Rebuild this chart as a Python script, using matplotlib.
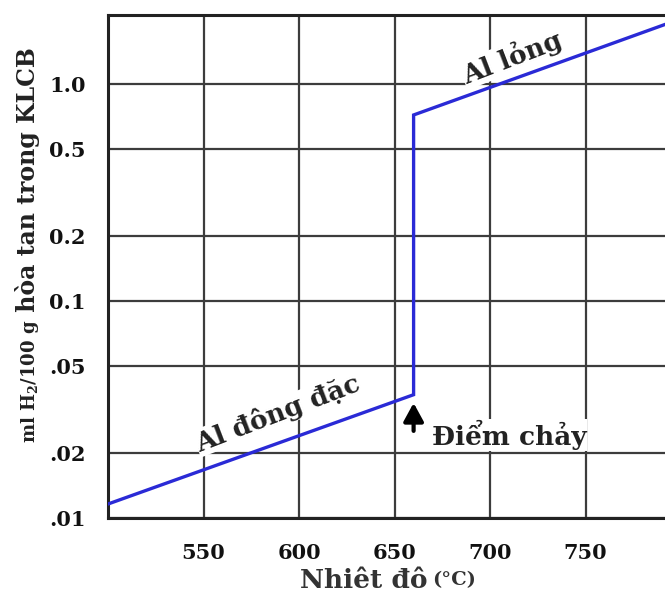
import matplotlib
matplotlib.use('Agg')
import matplotlib.pyplot as plt

# ---- data ----
solid_temp = [500, 660]
solid_h2 = [0.0116, 0.037]
liquid_temp = [660, 800]
liquid_h2 = [0.72, 2.0]
melt_temp = 660
x_ticks = [550, 600, 650, 700, 750]
x_tick_labels = ['550', '600', '650', '700', '750']
y_ticks = [0.01, 0.02, 0.05, 0.1, 0.2, 0.5, 1.0]
y_tick_labels = ['.01', '.02', '.05', '0.1', '0.2', '0.5', '1.0']

plt.rcParams['font.family'] = ['DejaVu Serif']
plt.rcParams['mathtext.fontset'] = 'dejavuserif'

W, H = 665, 598
fig = plt.figure(figsize=(W / 100, H / 100), dpi=100)
fig.patch.set_facecolor('white')

left_px, right_px, top_px, bot_px = 108, 681, 15, 518
ax = fig.add_axes([left_px / W, (H - bot_px) / H, (right_px - left_px) / W, (bot_px - top_px) / H])

ax.set_yscale('log')
ax.set_xlim(500, 800)
ax.set_ylim(0.01, 2.08)

ax.set_xticks(x_ticks)
ax.set_xticklabels(x_tick_labels)
ax.set_yticks(y_ticks)
ax.set_yticklabels(y_tick_labels)
ax.yaxis.set_minor_locator(matplotlib.ticker.NullLocator())
ax.tick_params(axis='both', length=0, labelsize=15)
ax.tick_params(axis='x', pad=18)
ax.tick_params(axis='y', pad=16)
for lab in ax.get_xticklabels() + ax.get_yticklabels():
    lab.set_fontweight('bold')
    lab.set_color('#111111')

ax.grid(True, color='#3c3c3c', lw=1.6)
ax.set_axisbelow(True)
for s in ax.spines.values():
    s.set_linewidth(2.2)
    s.set_color('#222222')

# curve
temps = solid_temp + liquid_temp
vals = solid_h2 + liquid_h2
ax.plot(temps, vals, color='#2a2ad6', lw=2.4, solid_joinstyle='miter', zorder=3)

# arrow at melting point
ax.annotate('', xy=(melt_temp, 0.0339), xytext=(melt_temp, 0.0252),
            arrowprops=dict(arrowstyle='-|>,head_width=0.3,head_length=0.55',
                            lw=3, color='black', shrinkA=0, shrinkB=0,
                            mutation_scale=20), zorder=4)

txt_kw = dict(fontsize=19, fontweight='bold', color='#222222', zorder=5)
ax.text(669.5, 0.0241, 'Điểm chảy', ha='left', va='center',
        bbox=dict(facecolor='white', edgecolor='none', pad=0.5), **txt_kw)
ax.text(589, 0.0305, 'Al đông đặc', ha='center', va='center', rotation=21,
        rotation_mode='anchor',
        bbox=dict(facecolor='white', edgecolor='none', pad=0.5), **txt_kw)
ax.text(711.5, 1.33, 'Al lỏng', ha='center', va='center', rotation=21,
        rotation_mode='anchor',
        bbox=dict(facecolor='white', edgecolor='none', pad=0.5), **txt_kw)

# axis labels
fig.text(427 / W, (H - 580) / H, 'Nhiêt đô', ha='right', va='center',
         fontsize=19, fontweight='bold', color='#333333')
fig.text(432 / W, (H - 580) / H, '(°C)', ha='left', va='center',
         fontsize=14, fontweight='bold', color='#333333')

fig.text(30 / W, (H - 320) / H, r'ml H$_\mathbf{2}$/100 g', rotation=90,
         ha='center', va='top', fontsize=13, fontweight='bold', color='#222222')
fig.text(28 / W, (H - 320) / H, ' hòa tan trong KLCB', rotation=90,
         ha='center', va='bottom', fontsize=17, fontweight='bold', color='#222222')

fig.savefig('out.png', dpi=100, facecolor='white')
